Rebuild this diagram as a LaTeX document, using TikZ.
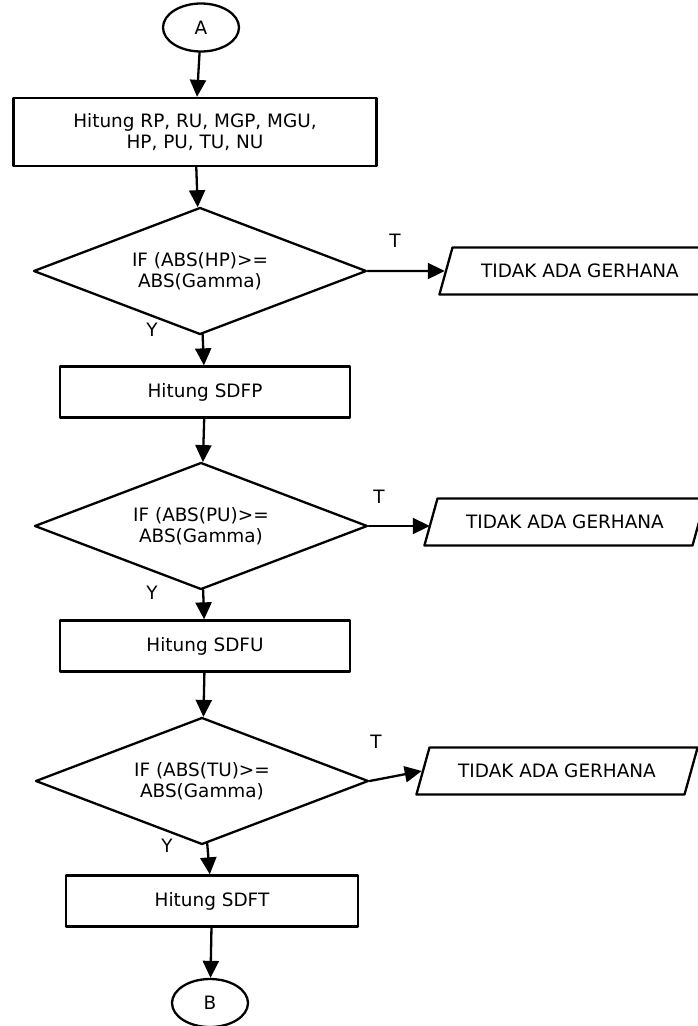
\documentclass[tikz,border=0pt]{standalone}
\usepackage{fontspec}
\setmainfont{DejaVu Sans}
\usetikzlibrary{shapes.geometric,arrows.meta}

\begin{document}
\begin{tikzpicture}[line cap=round,line join=round,>={Triangle[length=17bp,width=16bp]},x=1bp,y=-1bp,
  every node/.style={font=\fontsize{18.5}{21}\selectfont},
  garis/.style={line width=2.3bp},
  konektor/.style={draw,garis,ellipse,minimum width=76bp,minimum height=48bp,inner sep=0pt},
  proses/.style={draw,garis,rectangle,minimum width=290bp,minimum height=51bp,align=center},
  kondisi/.style={draw,garis,diamond,aspect=2.6,minimum width=333bp,minimum height=127bp,inner sep=0pt,align=center},
  keluaran/.style={draw,garis,trapezium,trapezium left angle=63,trapezium right angle=117,trapezium stretches=true,minimum width=282bp,minimum height=47bp},
  label/.style={inner sep=0pt}]
\useasboundingbox (0,0) rectangle (698,1026);
% simpul
\node[konektor] (A) at (201,27.5) {A};
\node[proses,minimum width=363bp,minimum height=68bp] (hitung) at (195,132) {Hitung RP, RU, MGP, MGU,\\HP, PU, TU, NU};
\node[kondisi] (cekHP) at (200,271) {IF (ABS(HP)>=\\ABS(Gamma)};
\node[keluaran] (tidak1) at (580,271) {TIDAK ADA GERHANA};
\node[proses] (sdfp) at (205,392) {Hitung SDFP};
\node[kondisi] (cekPU) at (201,526) {IF (ABS(PU)>=\\ABS(Gamma)};
\node[keluaran] (tidak2) at (565,522) {TIDAK ADA GERHANA};
\node[proses] (sdfu) at (205,646) {Hitung SDFU};
\node[kondisi] (cekTU) at (202,781) {IF (ABS(TU)>=\\ABS(Gamma)};
\node[keluaran] (tidak3) at (557,771) {TIDAK ADA GERHANA};
\node[proses,minimum width=292bp] (sdft) at (212,901) {Hitung SDFT};
\node[konektor] (B) at (210,1003) {B};
% label cabang
\node[label] (t1) at (395,241) {T};
\node[label] (t2) at (379,497) {T};
\node[label] (t3) at (376,742) {T};
\node[label] (y1) at (152,330) {Y};
\node[label] (y2) at (152,593) {Y};
\node[label] (y3) at (167,846) {Y};
% panah
\draw[->,garis] (A) -- (hitung);
\draw[->,garis] (hitung) -- (cekHP);
\draw[->,garis] (cekHP.east) -- (tidak1.west);
\draw[->,garis] (cekHP) -- (sdfp);
\draw[->,garis] (sdfp) -- (cekPU);
\draw[->,garis] (cekPU.east) -- (cekPU.east -| tidak2.west);
\draw[->,garis] (cekPU) -- (sdfu);
\draw[->,garis] (sdfu) -- (cekTU);
\draw[->,garis] (cekTU.east) -- (tidak3.west);
\draw[->,garis] (cekTU) -- (sdft);
\draw[->,garis] (sdft) -- (B);
\end{tikzpicture}
\end{document}
